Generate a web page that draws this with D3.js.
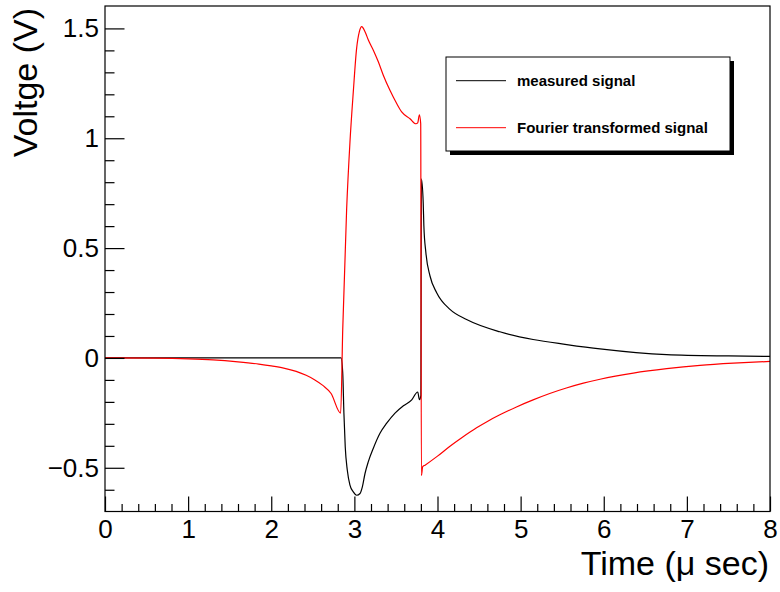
<!DOCTYPE html>
<html>
<head>
<meta charset="utf-8">
<script src="https://cdn.jsdelivr.net/npm/d3@7/dist/d3.min.js"></script>
<style>
  html, body { margin: 0; padding: 0; background: #fff; }
  svg { display: block; font-family: "Liberation Sans", Arial, Helvetica, sans-serif; }
</style>
</head>
<body>
<svg id="chart" width="780" height="592"></svg>
<script>
// ---- data ----
const timeMeasured = [0, 2.84, 2.86, 2.874, 2.89, 2.915, 2.947, 2.987, 3.028, 3.068, 3.096, 3.128, 3.168, 3.228, 3.308, 3.389, 3.489, 3.589, 3.69, 3.762, 3.783, 3.80, 3.806, 3.828, 3.836, 3.86, 3.91, 3.99, 4.15, 4.35, 4.75, 5.15, 5.555, 5.955, 6.757, 7.5, 8.0];
const voltMeasured = [0, 0, -0.069, -0.251, -0.404, -0.511, -0.579, -0.61, -0.625, -0.617, -0.587, -0.526, -0.472, -0.411, -0.343, -0.297, -0.251, -0.218, -0.191, -0.155, -0.19, -0.17, 0.815, 0.708, 0.602, 0.48, 0.373, 0.297, 0.221, 0.175, 0.119, 0.084, 0.061, 0.041, 0.015, 0.009, 0.007];

const timeFourier = [0, 0.6, 1.0, 1.3, 1.6, 1.85, 2.0, 2.15, 2.3, 2.42, 2.52, 2.62, 2.72, 2.835, 2.86, 2.907, 2.947, 2.987, 3.027, 3.06, 3.088, 3.128, 3.168, 3.228, 3.288, 3.348, 3.428, 3.509, 3.569, 3.669, 3.741, 3.762, 3.782, 3.798, 3.806, 3.822, 3.85, 4.0, 4.15, 4.3, 4.47, 4.6, 4.75, 4.95, 5.15, 5.35, 5.55, 5.755, 5.955, 6.356, 6.757, 7.158, 7.56, 8.0];
const voltFourier = [0, -0.001, -0.004, -0.009, -0.018, -0.028, -0.036, -0.046, -0.061, -0.079, -0.099, -0.125, -0.162, -0.251, 0.13, 0.678, 0.983, 1.211, 1.409, 1.485, 1.508, 1.485, 1.447, 1.401, 1.348, 1.287, 1.218, 1.158, 1.12, 1.089, 1.066, 1.07, 1.107, 1.066, -0.535, -0.495, -0.488, -0.447, -0.402, -0.361, -0.318, -0.289, -0.259, -0.223, -0.191, -0.162, -0.137, -0.115, -0.097, -0.069, -0.049, -0.034, -0.024, -0.016];

const xMajorTicks = [0, 1, 2, 3, 4, 5, 6, 7, 8];
const yMajorTicks = [-0.5, 0, 0.5, 1, 1.5];
const yTickLabels = ["\u22120.5", "0", "0.5", "1", "1.5"];
const seriesNames = ["measured signal", "Fourier transformed signal"];
const seriesColors = ["#000000", "#ff0000"];
const xTitle = "Time (\u03bc sec)";
const yTitle = "Voltge (V)";

// ---- layout ----
const frame = { left: 105, right: 770, top: 6, bottom: 511.5 };
const svg = d3.select("#chart");

const x = d3.scaleLinear().domain([0, 8]).range([frame.left, frame.right]);
const y = d3.scaleLinear().domain([-0.699, 1.602]).range([frame.bottom, frame.top]);

// clip
svg.append("defs").append("clipPath").attr("id", "clip")
  .append("rect")
  .attr("x", frame.left).attr("y", frame.top)
  .attr("width", frame.right - frame.left).attr("height", frame.bottom - frame.top);

// ---- series ----
const line = d3.line().x(d => x(d[0])).y(d => y(d[1])).curve(d3.curveMonotoneX);
const measured = timeMeasured.map((t, i) => [t, voltMeasured[i]]);
const fourier = timeFourier.map((t, i) => [t, voltFourier[i]]);

const plot = svg.append("g").attr("clip-path", "url(#clip)");
plot.append("path").datum(measured).attr("d", line)
  .attr("fill", "none").attr("stroke", seriesColors[0]).attr("stroke-width", 1.2);
plot.append("path").datum(fourier).attr("d", line)
  .attr("fill", "none").attr("stroke", seriesColors[1]).attr("stroke-width", 1.2);

// ---- frame ----
svg.append("rect")
  .attr("x", frame.left).attr("y", frame.top)
  .attr("width", frame.right - frame.left).attr("height", frame.bottom - frame.top)
  .attr("fill", "none").attr("stroke", "#000").attr("stroke-width", 1.2);

// ---- x axis ----
const xMinor = d3.range(1, 40).map(i => i * 0.2).filter(v => Math.abs(v - Math.round(v)) > 1e-6);
const xAxisMajor = d3.axisBottom(x).tickValues(xMajorTicks).tickSizeInner(-15).tickSizeOuter(0).tickPadding(22).tickFormat(d3.format("d"));
const gx = svg.append("g").attr("transform", `translate(0,${frame.bottom})`).call(xAxisMajor);
gx.select(".domain").remove();
gx.selectAll("line").attr("stroke", "#000").attr("stroke-width", 1.2);
gx.selectAll("text").attr("font-size", 26).attr("fill", "#000").attr("dy", "0.71em").attr("y", 8);
const xAxisMinor = d3.axisBottom(x).tickValues(xMinor).tickSizeInner(-7.5).tickSizeOuter(0).tickFormat("");
const gxm = svg.append("g").attr("transform", `translate(0,${frame.bottom})`).call(xAxisMinor);
gxm.select(".domain").remove();
gxm.selectAll("line").attr("stroke", "#000").attr("stroke-width", 1.2);

// ---- y axis ----
const yMinor = d3.range(-6, 16).map(i => i * 0.1).filter(v => Math.abs(v * 2 - Math.round(v * 2)) > 1e-6);
const yAxisMajor = d3.axisLeft(y).tickValues(yMajorTicks).tickSizeInner(-19.5).tickSizeOuter(0)
  .tickFormat((d, i) => yTickLabels[i]);
const gy = svg.append("g").attr("transform", `translate(${frame.left},0)`).call(yAxisMajor);
gy.select(".domain").remove();
gy.selectAll("line").attr("stroke", "#000").attr("stroke-width", 1.2);
gy.selectAll("text").attr("font-size", 26).attr("fill", "#000").attr("x", -6);
const yAxisMinor = d3.axisLeft(y).tickValues(yMinor).tickSizeInner(-9.5).tickSizeOuter(0).tickFormat("");
const gym = svg.append("g").attr("transform", `translate(${frame.left},0)`).call(yAxisMinor);
gym.select(".domain").remove();
gym.selectAll("line").attr("stroke", "#000").attr("stroke-width", 1.2);

// ---- titles ----
svg.append("text").attr("x", 769).attr("y", 575).attr("text-anchor", "end")
  .attr("font-size", 34).attr("fill", "#000").text(xTitle);
svg.append("text").attr("transform", "translate(37,8) rotate(-90)").attr("text-anchor", "end")
  .attr("font-size", 34).attr("fill", "#000").text(yTitle);

// ---- legend ----
const leg = { x: 446, y: 57, w: 284, h: 94 };
svg.append("rect").attr("x", leg.x + 4).attr("y", leg.y + 4).attr("width", leg.w).attr("height", leg.h).attr("fill", "#000");
svg.append("rect").attr("x", leg.x).attr("y", leg.y).attr("width", leg.w).attr("height", leg.h)
  .attr("fill", "#fff").attr("stroke", "#000").attr("stroke-width", 1);
const legRows = [80.7, 127.7];
seriesNames.forEach((name, i) => {
  svg.append("line").attr("x1", 456).attr("x2", 506).attr("y1", legRows[i]).attr("y2", legRows[i])
    .attr("stroke", seriesColors[i]).attr("stroke-width", 1);
  svg.append("text").attr("x", 517).attr("y", legRows[i] + 5.5)
    .attr("font-size", 15).attr("font-weight", "bold").attr("fill", "#000").text(name);
});
</script>
</body>
</html>
